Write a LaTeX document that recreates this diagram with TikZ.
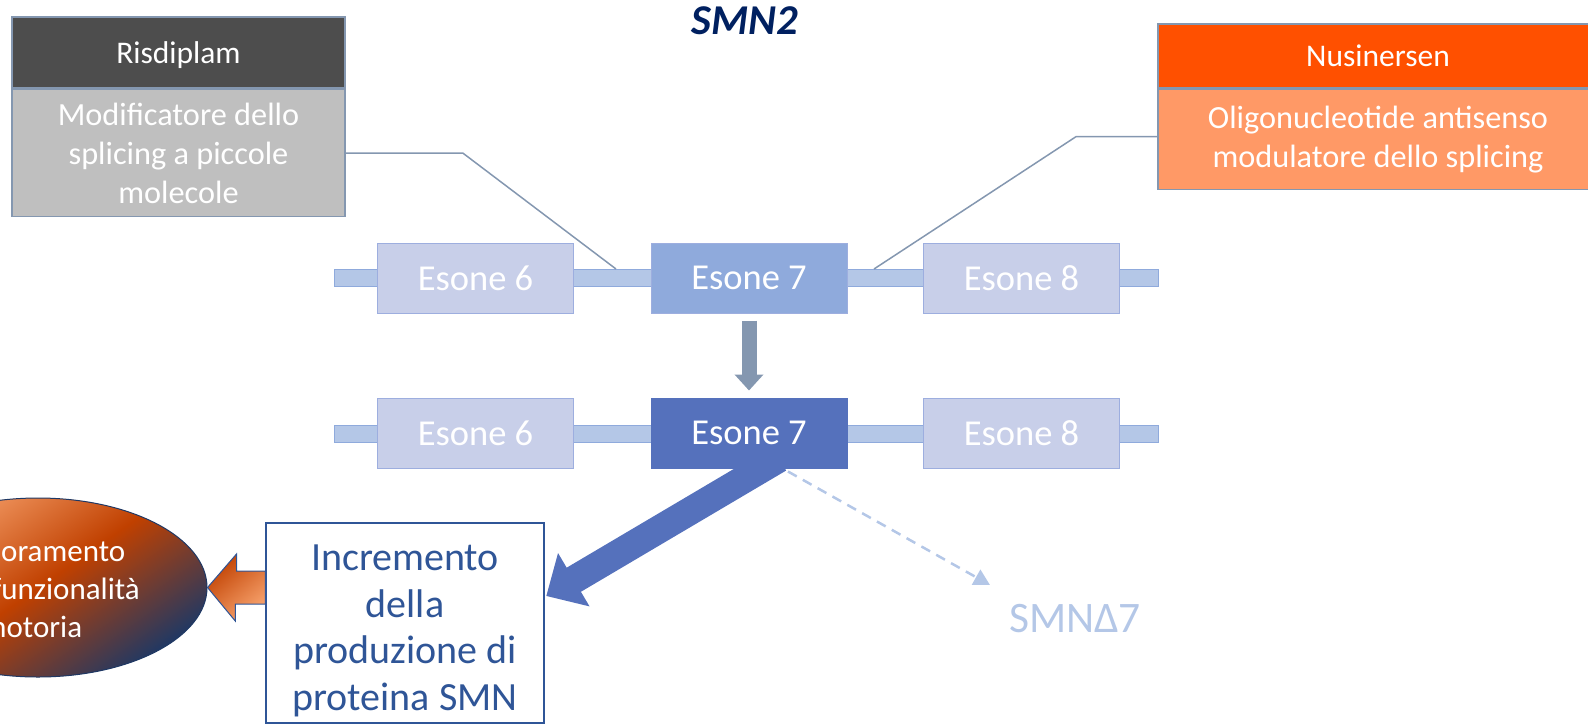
\documentclass[tikz,border=0pt]{standalone}
\usepackage{fontspec}
\setmainfont{Carlito}
\usepackage{tikz}
\usetikzlibrary{arrows.meta,positioning,calc,shapes.geometric,backgrounds}
\definecolor{hdrGray}{HTML}{4D4D4D}
\definecolor{bodyGray}{HTML}{BFBFBF}
\definecolor{hdrOrange}{HTML}{FF5000}
\definecolor{bodyOrange}{HTML}{FF9966}
\definecolor{frameGray}{HTML}{8497B0}
\definecolor{exonLight}{HTML}{C8CFE9}
\definecolor{exonEdge}{HTML}{9DAEDF}
\definecolor{exonMid}{HTML}{8FAADC}
\definecolor{exonDark}{HTML}{5571BC}
\definecolor{intronBlue}{HTML}{B4C7E7}
\definecolor{titleNavy}{HTML}{002060}
\definecolor{incrBlue}{HTML}{2F5597}
\definecolor{goalLight}{HTML}{F8A36E}
\definecolor{goalOrange}{HTML}{C04000}
\definecolor{goalNavy}{HTML}{1F3864}

\begin{document}
\begin{tikzpicture}[x=1pt,y=-1pt,
    drugbox/.style={rectangle,draw=frameGray,line width=1.5pt,inner sep=0pt,
                    text=white},
    drughdr/.style={drugbox,text depth=0pt,font=\fontsize{31.5}{39}\selectfont},
    drugtxt/.style={drugbox,align=center,font=\fontsize{32.3}{39}\selectfont},
    intron/.style={rectangle,fill=intronBlue,draw=exonMid,line width=1pt,
                   minimum width=824pt,minimum height=17pt,inner sep=0pt},
    exon/.style={rectangle,fill=exonLight,draw=exonEdge,line width=1pt,
                 minimum width=196pt,minimum height=70pt,inner sep=0pt,
                 text=white,font=\fontsize{36.5}{43}\selectfont},
    fline/.style={frameGray,line width=1.5pt},
    downarr/.style={frameGray,line width=15pt,-{Triangle[length=16pt,width=28pt]}},
    bigarr/.style={exonDark,line width=28pt,-{Triangle[length=32pt,width=60pt]}},
    dasharr/.style={intronBlue,line width=2.5pt,dash pattern=on 10pt off 7pt,
                    -{Triangle[length=16pt,width=17pt]}},
    blockarr/.style={draw=incrBlue,line width=1pt,shading=axis,
                     top color=goalOrange,bottom color=goalLight,shading angle=40}
  ]
  \clip (0,0) rectangle (1588,724);
  %% Title
  \node[text=titleNavy,font=\fontsize{42.5}{50}\selectfont\bfseries\itshape] (title)
    at (745,21) {SMN2};
  %% Drug boxes
  \node[drughdr,fill=hdrGray,minimum width=333pt,minimum height=71pt] (risd)
    at (178.5,52.5) {Risdiplam};
  \node[drugtxt,fill=bodyGray,minimum width=333pt,minimum height=127pt,
        below=0pt of risd] (risdtxt)
    {Modificatore dello\\splicing a piccole\\molecole};
  \node[drughdr,fill=hdrOrange,minimum width=440pt,minimum height=64pt] (nus)
    at (1378,56) {Nusinersen};
  \node[drugtxt,fill=bodyOrange,minimum width=440pt,minimum height=100pt,
        below=0pt of nus] (nustxt)
    {Oligonucleotide antisenso\\modulatore dello splicing};
  %% Pre-mRNA (top) and mRNA (bottom)
  \node[intron] (intA) at (746,278) {};
  \node[intron] (intB) at (746,434) {};
  \node[exon] (e6a) at (475.5,278) {Esone 6};
  \node[exon,fill=exonMid] (e7a) at (749,278) {Esone 7};
  \node[exon] (e8a) at (1021.5,278) {Esone 8};
  \node[exon] (e6b) at (475.5,433) {Esone 6};
  \node[exon,fill=exonDark,draw=exonDark] (e7b) at (749,433) {Esone 7};
  \node[exon] (e8b) at (1021.5,433) {Esone 8};
  %% Outcomes
  \node[rectangle,draw=incrBlue,line width=1.5pt,fill=white,
        minimum width=278pt,minimum height=200pt,inner sep=0pt] (incr)
    at (405,623) {};
  \node[align=center,inner sep=0pt,text=incrBlue,
        font=\fontsize{40}{46.5}\selectfont] (incrtxt)
    at ($(incr.center)+(0,8)$) {Incremento\\della\\produzione di\\proteina SMN};
  \node[text=intronBlue,font=\fontsize{43.5}{52}\selectfont] (smnd)
    at (1075,619) {SMNΔ7};
  \node[ellipse,draw=goalNavy,line width=1pt,shading=axis,top color=goalLight,
        bottom color=goalNavy,middle color=goalOrange,shading angle=35,
        minimum width=338pt,minimum height=179pt,inner sep=0pt] (goal)
    at (38,587.5) {};
  \node[align=center,inner sep=0pt,text=white,
        font=\fontsize{31}{38}\selectfont] (goaltxt)
    at ($(goal.center)+(-6,1)$) {Miglioramento\\della funzionalità\\motoria};
  %% Hooks on the intron
  \coordinate (hookL) at (616,269);
  \coordinate (hookR) at (874,269);
  \draw[fline] (risdtxt.east) -- ++(117,0) -- (hookL);
  \draw[fline] ($(nustxt.west)+(0,-3)$) -- ++(-81,0) -- (hookR);
  %% Arrows
  \draw[downarr,shorten <=7pt,shorten >=7pt] (e7a) -- (e7b);
  \coordinate (tipSMN) at ($(incr.east)+(1.5,-27)$);
  \coordinate (tipDelta) at (990,585);
  \begin{scope}[on background layer]
    \draw[bigarr] ($(e7b.south)+(30,-10)$) -- (tipSMN);
  \end{scope}
  \draw[dasharr] ($(e7b.south)+(39,3)$) -- (tipDelta);
  \path[blockarr] (goal.east) -- ++(29,-33.5) -- ++(0,17)
    -- ($(incr.west)+(0,-52)$) -- ++(0,33) -- ++(-30,0) -- ++(0,17) -- cycle;
\end{tikzpicture}
\end{document}
